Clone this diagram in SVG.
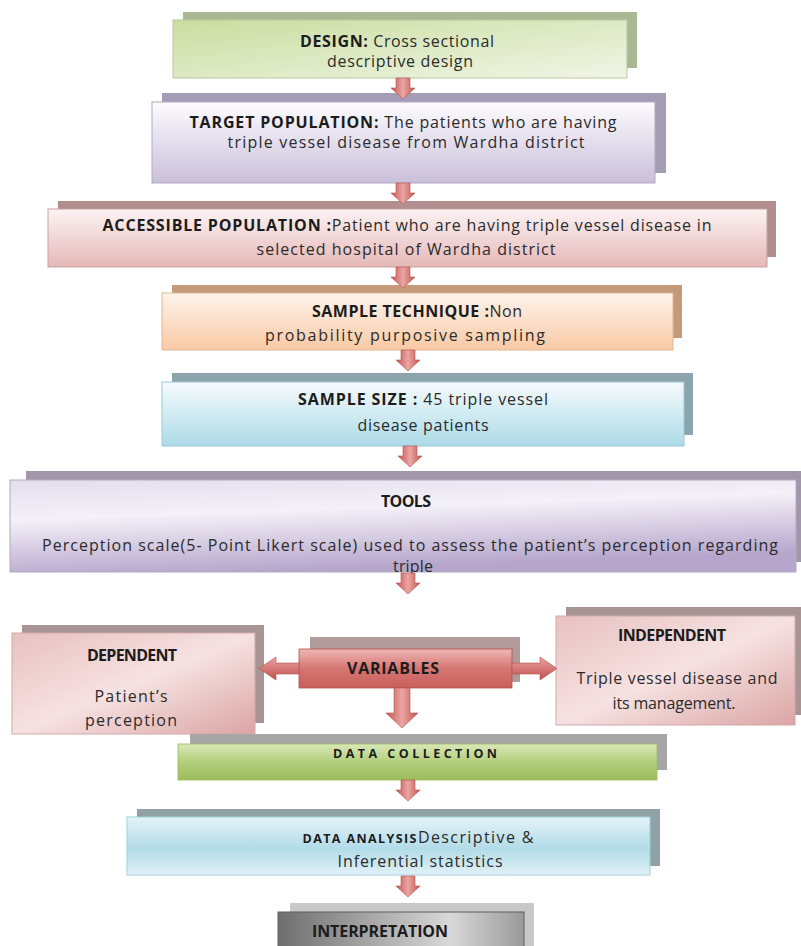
<svg xmlns="http://www.w3.org/2000/svg" width="801" height="946" viewBox="0 0 801 946">
<defs>
<linearGradient id="gGreen" x1="0" y1="0" x2="1" y2="1"><stop offset="0" stop-color="#cadd9f"/><stop offset="1" stop-color="#f0f5e6"/></linearGradient>
<linearGradient id="gPurple" x1="0" y1="0" x2="0" y2="1"><stop offset="0" stop-color="#fdfcfe"/><stop offset="1" stop-color="#c9bfda"/></linearGradient>
<linearGradient id="gPink" x1="0" y1="0" x2="0" y2="1"><stop offset="0" stop-color="#fcf3f3"/><stop offset="1" stop-color="#e6b8b8"/></linearGradient>
<linearGradient id="gOrange" x1="0" y1="0" x2="0" y2="1"><stop offset="0" stop-color="#fdf4ec"/><stop offset="1" stop-color="#f9c9a4"/></linearGradient>
<linearGradient id="gBlue" x1="0" y1="0" x2="0" y2="1"><stop offset="0" stop-color="#f6fbfd"/><stop offset="1" stop-color="#acdae7"/></linearGradient>
<linearGradient id="gTools" x1="0" y1="0" x2="0.3" y2="1"><stop offset="0" stop-color="#e4ddec"/><stop offset="0.4" stop-color="#f4f1f8"/><stop offset="1" stop-color="#b6a6cc"/></linearGradient>
<linearGradient id="gDep" x1="0" y1="0" x2="1" y2="1"><stop offset="0" stop-color="#e8c0c0"/><stop offset="0.5" stop-color="#f6e2e2"/><stop offset="1" stop-color="#dba4a4"/></linearGradient>
<linearGradient id="gVar" x1="0" y1="0" x2="0" y2="1"><stop offset="0" stop-color="#eeb8b6"/><stop offset="0.5" stop-color="#d67672"/><stop offset="1" stop-color="#c85f5b"/></linearGradient>
<linearGradient id="gDC" x1="0" y1="0" x2="0" y2="1"><stop offset="0" stop-color="#d9e8b8"/><stop offset="0.5" stop-color="#b2cf7c"/><stop offset="1" stop-color="#9cbc5c"/></linearGradient>
<linearGradient id="gDA" x1="0" y1="0" x2="0" y2="1"><stop offset="0" stop-color="#e4f3f8"/><stop offset="0.55" stop-color="#b2dbe8"/><stop offset="1" stop-color="#e1f1f7"/></linearGradient>
<linearGradient id="gGrey" x1="0" y1="0" x2="1" y2="0"><stop offset="0" stop-color="#6e6e6e"/><stop offset="0.7" stop-color="#d8d8d8"/><stop offset="1" stop-color="#9a9a9a"/></linearGradient>
<linearGradient id="gArrowV" x1="0" y1="0" x2="1" y2="0"><stop offset="0" stop-color="#c4524f"/><stop offset="0.5" stop-color="#eba6a4"/><stop offset="1" stop-color="#c4524f"/></linearGradient>
<linearGradient id="gArrowH" x1="0" y1="0" x2="0" y2="1"><stop offset="0" stop-color="#eaa3a1"/><stop offset="1" stop-color="#c0504d"/></linearGradient>
<path id="da" d="M-7 0H7V10H12L0 21L-12 10H-7Z"/>
</defs>
<style>
.t{font-family:"Open Sans","Noto Sans","Liberation Sans",sans-serif;font-size:16px;fill:#2b2b2b;text-anchor:middle}
.b{font-weight:bold;fill:#1c1c1c}
.sm{font-size:12.5px}
.arr{fill:url(#gArrowV);stroke:#b5504d;stroke-width:0.6}
.arrh{fill:url(#gArrowH);stroke:#b5504d;stroke-width:0.6}
</style>
<rect width="801" height="946" fill="#ffffff"/>

<g id="design">
<rect x="183" y="12" width="454" height="56" fill="#a9b892"/>
<rect x="173" y="20" width="454" height="58" fill="url(#gGreen)" stroke="#b9c99c" stroke-width="1"/>
<text class="t" x="397" y="47" textLength="194" lengthAdjust="spacing"><tspan class="b">DESIGN:</tspan> Cross sectional</text>
<text class="t" x="400" y="67" textLength="146" lengthAdjust="spacing">descriptive design</text>
</g>

<g id="target">
<rect x="162" y="93" width="504" height="80" fill="#a59cb6"/>
<rect x="152" y="102" width="503" height="81" fill="url(#gPurple)" stroke="#b2a8c4" stroke-width="1"/>
<text class="t" x="403" y="128" textLength="427" lengthAdjust="spacing"><tspan class="b">TARGET POPULATION:</tspan> The patients who are having</text>
<text class="t" x="406" y="148" textLength="357" lengthAdjust="spacing">triple vessel disease from Wardha district</text>
</g>

<g id="accessible">
<rect x="58" y="201" width="718" height="56" fill="#b38e8f"/>
<rect x="48" y="209" width="719" height="58" fill="url(#gPink)" stroke="#c9a0a0" stroke-width="1"/>
<text class="t" x="407" y="231" textLength="609" lengthAdjust="spacing"><tspan class="b">ACCESSIBLE POPULATION :</tspan>Patient who are having triple vessel disease in</text>
<text class="t" x="406" y="255" textLength="299" lengthAdjust="spacing">selected hospital of Wardha district</text>
</g>

<g id="technique">
<rect x="172" y="285" width="510" height="53" fill="#c49a7a"/>
<rect x="162" y="293" width="511" height="57" fill="url(#gOrange)" stroke="#e0b896" stroke-width="1"/>
<text class="t" x="417" y="317" textLength="210" lengthAdjust="spacing"><tspan class="b">SAMPLE TECHNIQUE :</tspan>Non</text>
<text class="t" x="405" y="341" textLength="280" lengthAdjust="spacing">probability purposive sampling</text>
</g>

<g id="size">
<rect x="172" y="373" width="521" height="62" fill="#8ca4ad"/>
<rect x="162" y="382" width="522" height="64" fill="url(#gBlue)" stroke="#9dc7d4" stroke-width="1"/>
<text class="t" x="423" y="405" textLength="250" lengthAdjust="spacing"><tspan class="b">SAMPLE SIZE :</tspan> 45 triple vessel</text>
<text class="t" x="423" y="431" textLength="131" lengthAdjust="spacing">disease patients</text>
</g>

<g id="tools">
<rect x="26" y="471" width="775" height="91" fill="#a098aa"/>
<rect x="10" y="480" width="786" height="92" fill="url(#gTools)" stroke="#b4a8c4" stroke-width="1"/>
<text class="t b" x="406" y="507" textLength="50" lengthAdjust="spacing">TOOLS</text>
<text class="t" x="410" y="551" textLength="736" lengthAdjust="spacing">Perception scale(5- Point Likert scale) used to assess the patient’s perception regarding</text>
<text class="t" x="413" y="572" textLength="40" lengthAdjust="spacing">triple</text>
</g>

<g id="independent">
<rect x="566" y="607" width="235" height="108" fill="#a89494"/>
<rect x="556" y="616" width="239" height="109" fill="url(#gDep)" stroke="#d3a9a9" stroke-width="1"/>
<text class="t b" x="672" y="641" textLength="108" lengthAdjust="spacing">INDEPENDENT</text>
<text class="t" x="677" y="684" textLength="201" lengthAdjust="spacing">Triple vessel disease and</text>
<text class="t" x="674" y="709" textLength="123" lengthAdjust="spacing">its management.</text>
</g>

<g id="dependent">
<rect x="22" y="625" width="242" height="98" fill="#a89494"/>
<rect x="12" y="633" width="243" height="101" fill="url(#gDep)" stroke="#d3a9a9" stroke-width="1"/>
<text class="t b" x="132" y="661" textLength="90" lengthAdjust="spacing">DEPENDENT</text>
<text class="t" x="131" y="702" textLength="73" lengthAdjust="spacing">Patient’s</text>
<text class="t" x="131" y="726" textLength="92" lengthAdjust="spacing">perception</text>
</g>

<g id="variables">
<rect x="310" y="637" width="210" height="45" fill="#b09a9a"/>
<rect x="299" y="649" width="213" height="39" fill="url(#gVar)" stroke="#b5504d" stroke-width="0.8"/>
<text class="t b" x="393" y="674" textLength="92" lengthAdjust="spacing">VARIABLES</text>
</g>

<g id="datacollection">
<rect x="190" y="734" width="477" height="36" fill="#a6a6a6"/>
<rect x="178" y="744" width="479" height="36" fill="url(#gDC)" stroke="#9cb860" stroke-width="0.8"/>
<text class="t b sm" x="415" y="758" textLength="164" lengthAdjust="spacing">DATA COLLECTION</text>
</g>

<g id="dataanalysis">
<rect x="137" y="809" width="523" height="57" fill="#8ea2a8"/>
<rect x="127" y="817" width="523" height="58" fill="url(#gDA)" stroke="#a0cfdc" stroke-width="1"/>
<text class="t" x="418" y="843" textLength="231" lengthAdjust="spacing"><tspan class="b sm">DATA ANALYSIS</tspan>Descriptive &amp;</text>
<text class="t" x="420" y="867" textLength="165" lengthAdjust="spacing">Inferential statistics</text>
</g>

<g id="interpretation">
<rect x="290" y="903" width="244" height="43" fill="#c8c8c8"/>
<rect x="278" y="912" width="246" height="40" fill="url(#gGrey)" stroke="#5e5e5e" stroke-width="1"/>
<text class="t b" x="380" y="937" textLength="136" lengthAdjust="spacing">INTERPRETATION</text>
</g>

<g id="connectors">
<use href="#da" class="arr" transform="translate(403,78)"/>
<use href="#da" class="arr" transform="translate(403,183)"/>
<use href="#da" class="arr" transform="translate(403,267)"/>
<use href="#da" class="arr" transform="translate(408,350)"/>
<use href="#da" class="arr" transform="translate(410,446)"/>
<use href="#da" class="arr" transform="translate(408,573)"/>
<use href="#da" class="arr" transform="translate(408,780)"/>
<use href="#da" class="arr" transform="translate(408,876)"/>
<path class="arrh" d="M299 663H276V657L259 668.5L276 680V674H299Z"/>
<path class="arrh" d="M512 663H540V657L557 668.5L540 680V674H512Z"/>
<path class="arr" d="M394 688H410V713H418L402 728L386 713H394Z"/>
</g>
</svg>
